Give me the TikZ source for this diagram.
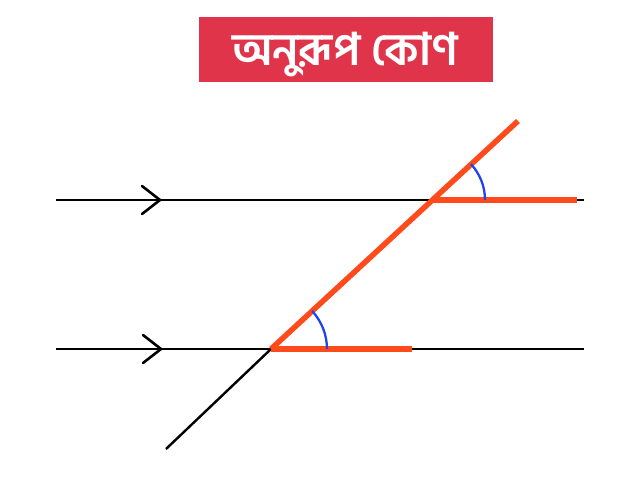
\documentclass[tikz,border=0pt]{standalone}
\usepackage{fontspec}
\usetikzlibrary{calc}
\newfontfamily\bnfont[Script=Bengali]{Hind Siliguri}
\begin{document}
\begin{tikzpicture}[x=1pt,y=-1pt,
  blackline/.style={line width=2.4pt,black},
  redline/.style={line width=5.5pt,draw=orangered},
  chev/.style={line width=2.6pt,black,line cap=round,line join=round},
  anglearc/.style={line width=2.3pt,draw=arcblue}]
\definecolor{orangered}{HTML}{FF4A1C}
\definecolor{arcblue}{HTML}{2244EE}
\definecolor{titlered}{HTML}{E0344B}
\useasboundingbox (0,0) rectangle (640,480);
\fill[white] (0,0) rectangle (640,480);
% title
\node[fill=titlered,minimum width=294pt,minimum height=65pt,inner sep=0pt] (title) at (346,49.5) {};
\node[inner sep=0pt,anchor=base] (titletext) at (345,65)
  {\bnfont\bfseries\fontsize{45}{50}\selectfont\color{white}অনুরূপ কোণ};
% coordinates
\coordinate (u1) at (56,200);
\coordinate (u2) at (584,200);
\coordinate (l1) at (56,349);
\coordinate (l2) at (584,349);
\coordinate (P) at (432,200);
\coordinate (Q) at (271,349);
\coordinate (T) at (518,121);
\coordinate (B) at (166,449);
\coordinate (Pe) at (577,200);
\coordinate (Qe) at (412,349);
% parallel lines
\draw[blackline] (u1) -- (u2);
\draw[blackline] (l1) -- (l2);
% chevrons
\draw[chev] (142,186) -- (160,200) -- (142,214);
\draw[chev] (143,335) -- (161,349) -- (143,363);
% transversal lower black part
\draw[blackline] (B) -- (Q);
% red parts
\draw[redline] (Q) -- (T);
\draw[redline] (P) -- (Pe);
\draw[redline] (Q) -- (Qe);
% arcs
\draw[anglearc] ($(P)+(53,0)$) arc[start angle=0,end angle=-42.7,radius=53];
\draw[anglearc] ($(Q)+(56,0)$) arc[start angle=0,end angle=-42.7,radius=56];
\end{tikzpicture}
\end{document}
